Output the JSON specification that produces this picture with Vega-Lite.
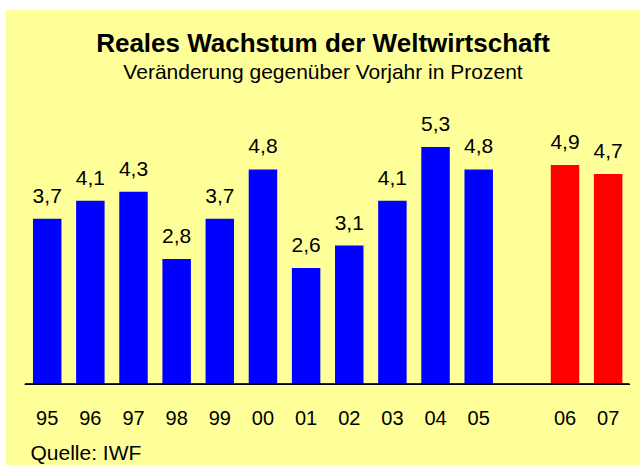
{
  "$schema": "https://vega.github.io/schema/vega-lite/v6.json",
  "width": 634,
  "height": 455,
  "autosize": {"type": "none"},
  "padding": {"left": 6, "top": 10, "right": 0, "bottom": 0},
  "background": "white",
  "title": {
    "text": "Reales Wachstum der Weltwirtschaft",
    "subtitle": "Veränderung gegenüber Vorjahr in Prozent",
    "anchor": "middle",
    "frame": "group",
    "offset": -73,
    "font": "Liberation Sans",
    "fontSize": 26,
    "fontWeight": "bold",
    "color": "black",
    "subtitleFont": "Liberation Sans",
    "subtitleFontSize": 21,
    "subtitleColor": "black",
    "subtitlePadding": 5
  },
  "data": {
    "values": [
      {"year": "95", "value": 3.7, "type": "actual"},
      {"year": "96", "value": 4.1, "type": "actual"},
      {"year": "97", "value": 4.3, "type": "actual"},
      {"year": "98", "value": 2.8, "type": "actual"},
      {"year": "99", "value": 3.7, "type": "actual"},
      {"year": "00", "value": 4.8, "type": "actual"},
      {"year": "01", "value": 2.6, "type": "actual"},
      {"year": "02", "value": 3.1, "type": "actual"},
      {"year": "03", "value": 4.1, "type": "actual"},
      {"year": "04", "value": 5.3, "type": "actual"},
      {"year": "05", "value": 4.8, "type": "actual"},
      {"year": "06", "value": 4.9, "type": "forecast"},
      {"year": "07", "value": 4.7, "type": "forecast"}
    ]
  },
  "encoding": {
    "x": {
      "field": "year",
      "type": "nominal",
      "sort": null,
      "scale": {
        "domain": ["95", "96", "97", "98", "99", "00", "01", "02", "03", "04", "05", "gap", "06", "07"],
        "paddingInner": 0.34,
        "paddingOuter": 0.5165,
        "align": 0.605
      },
      "axis": {
        "title": "Quelle: IWF",
        "orient": "bottom",
        "offset": -57,
        "domain": false,
        "ticks": false,
        "grid": false,
        "labelPadding": 0,
        "labelAngle": 0,
        "labelFont": "Liberation Sans",
        "labelFontSize": 20,
        "labelColor": "black",
        "labelExpr": "datum.value == 'gap' ? '' : datum.value",
        "titleFont": "Liberation Sans",
        "titleFontSize": 21,
        "titleFontWeight": "normal",
        "titleColor": "black",
        "titleAnchor": "start",
        "titleAlign": "left",
        "titleX": 24,
        "titleY": 51,
        "titleBaseline": "alphabetic"
      }
    }
  },
  "layer": [
    {
      "mark": {"type": "bar"},
      "encoding": {
        "y": {
          "field": "value",
          "type": "quantitative",
          "scale": {"domain": [-1.8, 8.36], "nice": false, "zero": false},
          "axis": null
        },
        "y2": {"datum": 0},
        "color": {
          "field": "type",
          "type": "nominal",
          "scale": {"domain": ["actual", "forecast"], "range": ["#0000FF", "#FF0000"]},
          "legend": null
        }
      }
    },
    {
      "mark": {"type": "text", "baseline": "alphabetic", "dy": -16, "font": "Liberation Sans", "fontSize": 21, "color": "black"},
      "encoding": {
        "y": {"field": "value", "type": "quantitative"},
        "text": {"field": "value", "type": "quantitative", "format": ".1f"}
      }
    },
    {
      "mark": {"type": "rule", "color": "black", "strokeWidth": 1, "xOffset": -8, "x2Offset": 7},
      "encoding": {
        "x": {"datum": "95", "bandPosition": 0},
        "x2": {"datum": "07", "bandPosition": 1},
        "y": {"datum": 0}
      }
    }
  ],
  "config": {
    "view": {"fill": "#FFFF99", "stroke": null},
    "locale": {"number": {"decimal": ",", "thousands": ".", "grouping": [3], "currency": ["", " €"]}}
  }
}
